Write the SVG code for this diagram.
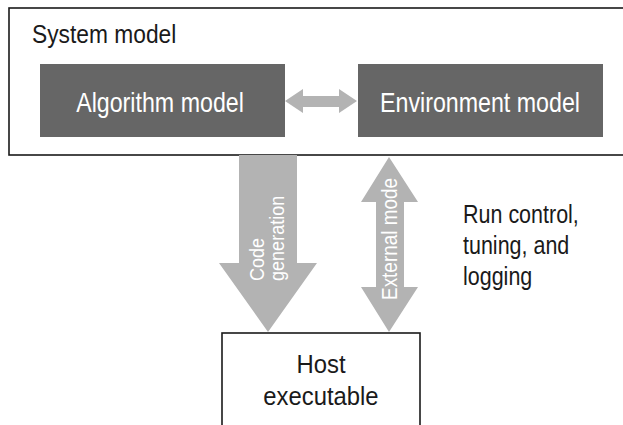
<svg xmlns="http://www.w3.org/2000/svg" width="623" height="425" viewBox="0 0 623 425">
<style>
.t{font-family:"Liberation Sans",Arial,sans-serif;}
.dark{fill:#1a1a1a;}
.white{fill:#ffffff;}
.box{fill:#666666;}
.frame{fill:#ffffff;stroke:#1a1a1a;stroke-width:1.6;}
.arrow{fill:#b3b3b3;}
</style>
<rect width="623" height="425" fill="#ffffff"/>
<g id="system-model">
<rect class="frame" x="9" y="8" width="640" height="147"/>
<text class="t dark" transform="translate(32,43) scale(0.86,1)" font-size="26.5">System model</text>
</g>
<g id="algorithm-model">
<rect class="box" x="40" y="64" width="245" height="73"/>
<text class="t white" transform="translate(160,111.5) scale(0.86,1)" font-size="27" text-anchor="middle">Algorithm model</text>
</g>
<g id="environment-model">
<rect class="box" x="358" y="64" width="245" height="73"/>
<text class="t white" transform="translate(480,111.5) scale(0.86,1)" font-size="27" text-anchor="middle">Environment model</text>
</g>
<g id="host-executable">
<rect class="frame" x="222" y="333" width="198" height="110"/>
<text class="t dark" transform="translate(321,373) scale(0.9,1)" font-size="26.5" text-anchor="middle">Host</text>
<text class="t dark" transform="translate(321,405) scale(0.9,1)" font-size="26.5" text-anchor="middle">executable</text>
</g>
<g id="connectors">
<polygon class="arrow" points="285,101 303,89 303,96 339,96 339,89 357,101 339,113 339,107 303,107 303,113"/>
<polygon class="arrow" points="239,155 297,155 297,263 317,263 268,332 219,263 239,263"/>
<polygon class="arrow" points="389,157 418,202 404,202 404,287 418,287 389,332 361,287 376,287 376,202 361,202"/>
<text class="t white" transform="translate(264,281) rotate(-90) scale(0.86,1)" font-size="21">Code</text>
<text class="t white" transform="translate(284,281) rotate(-90) scale(0.86,1)" font-size="21">generation</text>
<text class="t white" transform="translate(397,239) rotate(-90) scale(0.86,1)" font-size="22" text-anchor="middle">External mode</text>
</g>
<g id="label-run-control">
<text class="t dark" transform="translate(463,0) scale(0.86,1)" font-size="25"><tspan x="0" y="223">Run control,</tspan><tspan x="0" y="254">tuning, and</tspan><tspan x="0" y="285">logging</tspan></text>
</g>
</svg>
